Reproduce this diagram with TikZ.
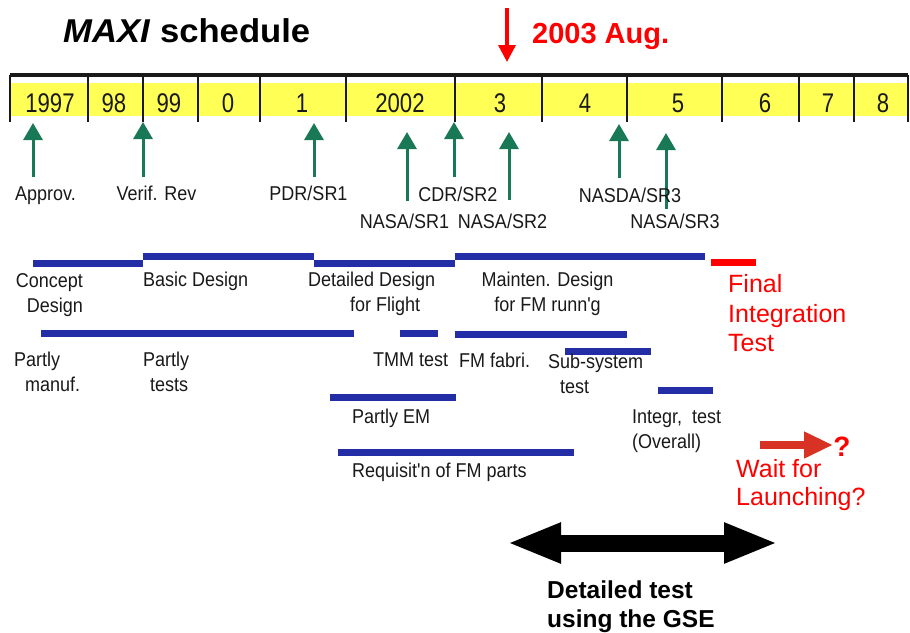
\documentclass[tikz,border=0pt]{standalone}
\usepackage{fontspec}
\setmainfont{Liberation Sans}
\newfontfamily\bodyf{Liberation Sans}[FakeStretch=0.9]
\newfontfamily\yearf{Liberation Sans}[FakeStretch=0.82]
\newfontfamily\titlef{Liberation Sans}[FakeStretch=1.05]
\usetikzlibrary{arrows.meta}
\definecolor{barY}{RGB}{255,255,85}
\definecolor{mgreen}{RGB}{25,120,85}
\definecolor{mblue}{RGB}{35,45,165}
\definecolor{mred}{RGB}{255,0,0}
\definecolor{ared}{RGB}{215,50,35}
\definecolor{ink}{RGB}{25,25,25}
\newcommand\tp{\rule{0pt}{0.75em}}
\begin{document}
\begin{tikzpicture}[x=1pt,y=-1pt,
  lbl/.style={inner sep=0pt, text=ink, font=\bodyf\fontsize{20}{25}\selectfont},
  yr/.style={inner sep=0pt, text=ink, font=\yearf\fontsize{27}{30}\selectfont, anchor=base},
  redlbl/.style={inner sep=0pt, text=mred, font=\fontsize{25}{29.5}\selectfont},
  gbar/.style={line width=7pt, mblue},
  rbar/.style={line width=7pt, mred},
  garr/.style={mgreen, line width=3pt, -{Triangle[length=17pt,width=19pt]}},
  tickln/.style={ink, line width=1.2pt},
]
\useasboundingbox (0,0) rectangle (910,632);

% title
\node[anchor=base west, inner sep=0pt, text=black, font=\titlef\bfseries\fontsize{33}{36}\selectfont] (title) at (63,42) {\textit{MAXI} schedule};

% current date marker
\node[anchor=base west, inner sep=0pt, text=mred, font=\bfseries\fontsize{29}{32}\selectfont] (aug) at (532,43) {2003 Aug.};
\coordinate (augS) at (507,8);
\coordinate (augE) at (507,62);
\draw[mred, line width=3.5pt, -{Triangle[length=17pt,width=17pt]}] (augS) -- (augE);

% year bar
\fill[barY] (10,83) rectangle (908,116);
\draw[ink, line width=3.5pt] (10,75) -- (908,75);
\foreach \x in {10,88,143,198,260,346,455,542,627,722,799,854,908}
  \draw[tickln] (\x,75) -- (\x,122);

\node[yr] (y97) at (50,112) {1997};
\node[yr] (y98) at (114,112) {98};
\node[yr] (y99) at (169,112) {99};
\node[yr] (y00) at (228,112) {0};
\node[yr] (y01) at (302,112) {1};
\node[yr] (y02) at (400,112) {2002};
\node[yr] (y03) at (500,112) {3};
\node[yr] (y04) at (585,112) {4};
\node[yr] (y05) at (678,112) {5};
\node[yr] (y06) at (765,112) {6};
\node[yr] (y07) at (828,112) {7};
\node[yr] (y08) at (883,112) {8};

% milestone arrows
\coordinate (m1s) at (33,177);  \coordinate (m1e) at (33,123);
\coordinate (m2s) at (143,177); \coordinate (m2e) at (143,122);
\coordinate (m3s) at (314,177); \coordinate (m3e) at (314,123);
\coordinate (m4s) at (407,201); \coordinate (m4e) at (407,132);
\coordinate (m5s) at (454,177); \coordinate (m5e) at (454,122);
\coordinate (m6s) at (509,200); \coordinate (m6e) at (509,132);
\coordinate (m7s) at (619,178); \coordinate (m7e) at (619,124);
\coordinate (m8s) at (666,209); \coordinate (m8e) at (666,133);
\foreach \i in {1,...,8} \draw[garr] (m\i s) -- (m\i e);

% milestone labels
\node[lbl, anchor=base] (approv) at (45.5,200) {Approv.};
\node[lbl, anchor=base] (verif) at (156.5,200) {Verif. Rev};
\node[lbl, anchor=base] (pdr) at (308.5,200) {PDR/SR1};
\node[lbl, anchor=base] (cdr) at (458,201) {CDR/SR2};
\node[lbl, anchor=base] (nasda3) at (630,202) {NASDA/SR3};
\node[lbl, anchor=base] (nasa1) at (404.5,228) {NASA/SR1};
\node[lbl, anchor=base] (nasa2) at (502.5,228) {NASA/SR2};
\node[lbl, anchor=base] (nasa3) at (675,228) {NASA/SR3};

% bars row 1
\draw[gbar] (33,263.5) -- (143,263.5);
\draw[gbar] (143,256.5) -- (314,256.5);
\draw[gbar] (314,263.5) -- (455,263.5);
\draw[gbar] (455,256.5) -- (705,256.5);
\draw[rbar] (711,262.5) -- (756,262.5);

% bars row 2 and below
\draw[gbar] (41,333.5) -- (354,333.5);
\draw[gbar] (400,333.5) -- (438,333.5);
\draw[gbar] (455,334) -- (627,334);
\draw[gbar] (565,351) -- (651,351);
\draw[gbar] (658,390) -- (713,390);
\draw[gbar] (330,397) -- (456,397);
\draw[gbar] (338,452) -- (574,452);

% labels row 1
\node[lbl, align=right, anchor=north east] (concept) at (83,272) {\tp Concept\\Design};
\node[lbl, anchor=base west] (basic) at (143,286) {Basic Design};
\node[lbl, align=left, anchor=north west] (detailed) at (308,271) {\tp Detailed Design\\\hspace*{42pt}for Flight};
\node[lbl, align=center, anchor=north] (mainten) at (547.5,271) {\tp Mainten. Design\\for FM runn'g};

% labels row 2
\node[lbl, align=left, anchor=north west] (pmanuf) at (14,351) {\tp Partly\\\hspace*{11pt}manuf.};
\node[lbl, align=left, anchor=north west] (ptests) at (143,351) {\tp Partly\\\hspace*{7pt}tests};
\node[lbl, anchor=base west] (tmm) at (373,366) {TMM test};
\node[lbl, anchor=base west] (fmfab) at (459,367) {FM fabri.};
\node[lbl, align=left, anchor=north west] (subsys) at (548,353) {\tp Sub-system\\\hspace*{12pt}test};

% labels row 3
\node[lbl, anchor=base west] (pem) at (352,423) {Partly EM};
\node[lbl, anchor=base west] (req) at (352,477) {Requisit'n of FM parts};
\node[lbl, align=left, anchor=north west] (integr) at (632,408) {\tp Integr,\ \ test\\(Overall)};

% red texts
\node[redlbl, align=left, anchor=north west] (final) at (728,274) {\tp Final\\Integration\\Test};
\node[redlbl, align=left, anchor=north west, font=\fontsize{25}{28}\selectfont] (wait) at (736,459) {\tp Wait for\\Launching?};
\node[anchor=base, inner sep=0pt, text=mred, font=\bfseries\fontsize{28}{30}\selectfont] (qm) at (842,456) {?};
\coordinate (la) at (760,445);
\draw[ared, line width=8pt, -{Triangle[length=29pt,width=25pt]}] (la) -- (833,445);

% GSE double arrow
\coordinate (gl) at (507,543);
\coordinate (gr) at (778,543);
\draw[black, line width=17pt, {Triangle[length=54pt,width=37pt]}-{Triangle[length=54pt,width=37pt]}] (gl) -- (gr);
\node[anchor=north west, inner sep=0pt, align=left, text=black, font=\bfseries\fontsize{24.5}{29}\selectfont] (gse) at (547,580) {\tp Detailed test\\using the GSE};
\end{tikzpicture}
\end{document}
